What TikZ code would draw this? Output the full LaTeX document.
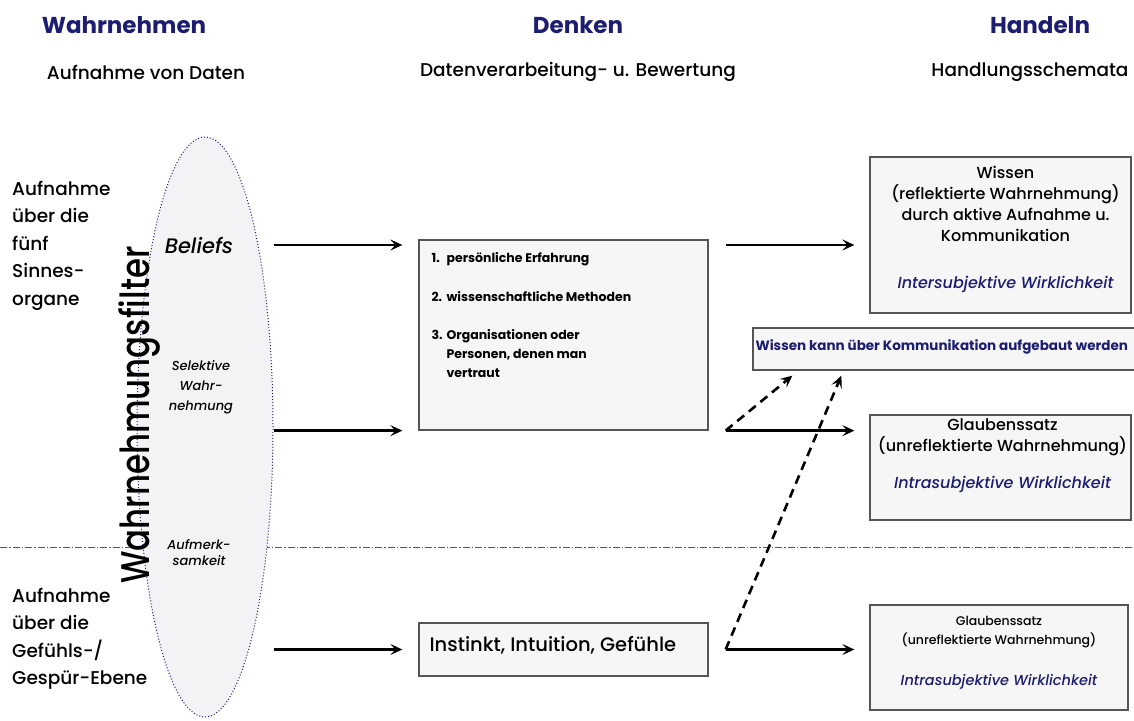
\documentclass[tikz,border=0pt]{standalone}
\usepackage{graphicx}
\usepackage{fontspec}
\setmainfont{Poppins}[UprightFont=* Medium, BoldFont=* Bold, ItalicFont=* Medium Italic, BoldItalicFont=* Bold Italic]
\usetikzlibrary{arrows.meta,calc,positioning,shapes.geometric}

\definecolor{navyblue}{RGB}{28,28,112}
\definecolor{boxfill}{RGB}{246,246,247}
\definecolor{filterfill}{RGB}{243,243,246}
\definecolor{boxline}{RGB}{85,85,85}
\newcommand{\fsize}[2]{\fontsize{#1}{#2}\selectfont}

\begin{document}
\begin{tikzpicture}[x=1pt, y=-1pt, >={Stealth[length=12pt,width=11pt,inset=5pt]},
    heading/.style={font=\fsize{23}{28}\bfseries, text=navyblue},
    subheading/.style={font=\fsize{18.5}{22}},
    sidetext/.style={font=\fsize{18.5}{27.5}, align=left, anchor=north west, inner sep=0pt},
    filterlabel/.style={font=\fsize{13}{20}\itshape, align=center, inner sep=0pt},
    schema/.style={draw=boxline, line width=1.3pt, fill=boxfill, inner sep=0pt},
    boxtext/.style={font=\fsize{16}{21}, align=center, inner sep=0pt},
    realitytext/.style={font=\fsize{16}{18.5}\itshape, text=navyblue, inner sep=0pt},
    flow/.style={->, line width=2.6pt},
    hint/.style={->, line width=2.6pt, dash pattern=on 9pt off 6pt},
    separator/.style={line width=0.9pt, gray!70!black, dash pattern=on 7pt off 2pt on 1.5pt off 2pt}]

    \useasboundingbox (0,0) rectangle (1134,720);

    \draw[separator] (0,547) -- (1134,547);

    \node[ellipse, draw=navyblue, line width=1pt, dotted, fill=filterfill, minimum width=136, minimum height=580, inner sep=0pt] (filter) at (205,427) {};

    \node[heading] (hperceive) at (124,25) {Wahrnehmen};
    \node[heading] (hthink) at (578,25) {Denken};
    \node[heading] (hact) at (1040,25) {Handeln};

    \node[subheading] (sperceive) at (146,72) {Aufnahme von Daten};
    \node[subheading] (sthink) at (578,72) {Datenverarbeitung- u. Bewertung};
    \node[subheading] (sact) at (1030,72) {Handlungsschemata};

    \node[sidetext] (senses) at (12,181) {Aufnahme\\über die\\fünf\\Sinnes-\\organe};
    \node[sidetext] (feelings) at (12,588) {Aufnahme\\über die\\Gefühls-/\\Gespür-Ebene};

    \node[font=\fsize{21}{24}\itshape, inner sep=0pt] (beliefs) at (199,245) {Beliefs};
    \node[filterlabel] (selective) at (201,387) {Selektive\\Wahr-\\nehmung};
    \node[filterlabel, font=\fsize{13}{16}\itshape] (attention) at (199,553) {Aufmerk-\\samkeit};
    \node[rotate=90, font=\fsize{40}{40}, inner sep=0pt] (filtername) at (139,415) {\scalebox{0.81}[1]{Wahrnehmungsfilter}};

    \node[schema, minimum width=289, minimum height=190] (reasoning) at (563.5,335) {};
    \node[anchor=north west, inner sep=0pt, font=\fsize{12.5}{19}\bfseries] (sources) at ($(reasoning.north west)+(13,10)$) {%
        \begin{tabular}{@{}l@{\hspace{4pt}}l@{}}
            1. & persönliche Erfahrung\\[20pt]
            2. & wissenschaftliche Methoden\\[19pt]
            3. & Organisationen oder\\
               & Personen, denen man\\
               & vertraut
        \end{tabular}};

    \node[schema, minimum width=289, minimum height=53] (instinct) at (563.5,649.5) {};
    \node[anchor=west, font=\fsize{19.5}{22}, inner sep=0pt] (instinctlabel) at ($(instinct.west)+(11,-4)$) {Instinkt, Intuition, Gefühle};

    \node[schema, minimum width=261, minimum height=156] (knowledge) at (1000.5,235) {};
    \node[boxtext, below=10pt of knowledge.north, xshift=5pt] (knowtext) {Wissen\\(reflektierte Wahrnehmung)\\durch aktive Aufnahme u.\\Kommunikation};
    \node[realitytext, above=21pt of knowledge.south, xshift=5pt] (knowreality) {Intersubjektive Wirklichkeit};

    \node[schema, minimum width=397, minimum height=42] (comm) at (951.5,349) {};
    \node[font=\fsize{13.5}{15}\bfseries, text=navyblue, anchor=west, inner sep=0pt] (commtext) at ($(comm.west)+(3,-2)$) {Wissen kann über Kommunikation aufgebaut werden};

    \node[schema, minimum width=261, minimum height=105] (belief) at (1000.5,467.5) {};
    \node[boxtext, font=\fsize{16}{21}, below=4pt of belief.north, xshift=2pt] (belieftext) {Glaubenssatz\\(unreflektierte Wahrnehmung)};
    \node[realitytext, above=28pt of belief.south, xshift=2pt] (beliefreality) {Intrasubjektive Wirklichkeit};

    \node[schema, minimum width=258, minimum height=105] (belieftwo) at (999,657.5) {};
    \node[boxtext, font=\fsize{12.5}{19}, below=12pt of belieftwo.north] (belieftwotext) {Glaubenssatz\\(unreflektierte Wahrnehmung)};
    \node[realitytext, font=\fsize{14.5}{17}\itshape, above=21pt of belieftwo.south] (belieftworeality) {Intrasubjektive Wirklichkeit};

    \coordinate (beliefrow) at (0,245);
    \draw[flow, shorten >=16pt] (filter.east |- beliefrow) -- (reasoning.west |- beliefrow);
    \draw[flow, shorten >=16pt] (filter.east |- reasoning.south) -- (reasoning.south west);
    \draw[flow, shorten >=16pt] (filter.east |- instinct.west) -- (instinct.west);

    \draw[flow, shorten <=17pt, shorten >=15pt] (reasoning.east |- beliefrow) -- (knowledge.west |- beliefrow);
    \draw[flow, shorten <=17pt, shorten >=15pt] (reasoning.south east) -- (belief.west |- reasoning.south east);
    \draw[flow, shorten <=17pt, shorten >=15pt] (instinct.east) -- (belieftwo.west |- instinct.east);

    \draw[hint] ($(reasoning.south east)+(17,0)$) -- ($(comm.south west)+(40,5)$);
    \draw[hint] ($(instinct.east)+(17,0)$) -- ($(comm.south west)+(89,5)$);
\end{tikzpicture}
\end{document}
